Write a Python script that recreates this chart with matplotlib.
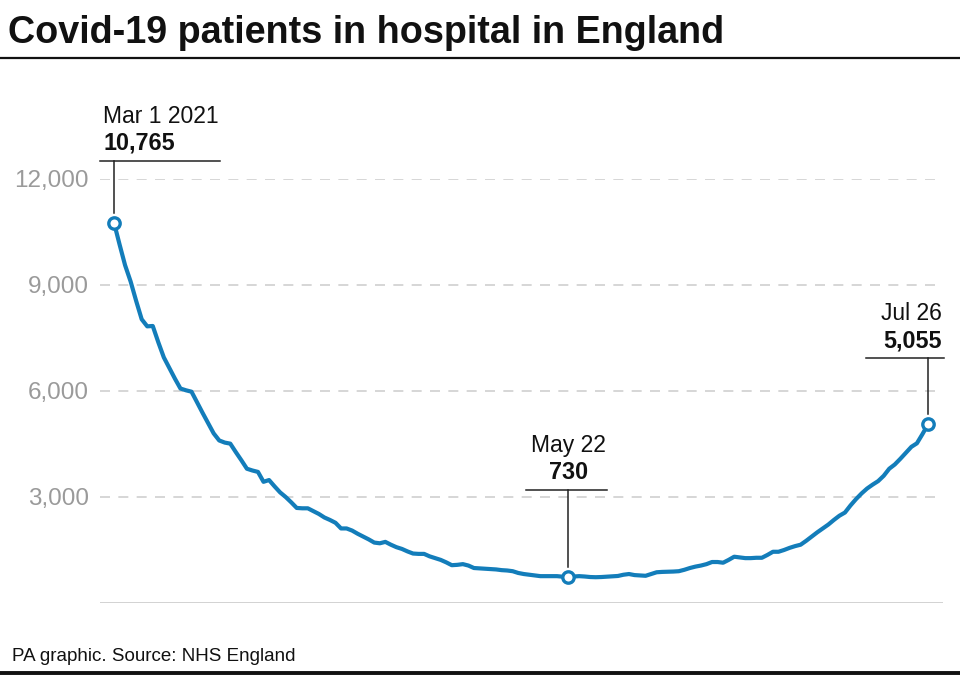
import datetime as dt
import matplotlib
matplotlib.use("Agg")
import matplotlib.pyplot as plt
from matplotlib.lines import Line2D

plt.rcParams["font.family"] = ["Liberation Sans", "DejaVu Sans"]

# daily patients in hospital (Mar 1 - Jul 26 2021)
start_date = dt.date(2021, 3, 1)
patients = [
    10765, 10150, 9560, 9100, 8550, 8030, 7830, 7840, 7380, 6950,
    6650, 6350, 6070, 6020, 5980, 5680, 5380, 5090, 4800, 4600,
    4540, 4510, 4270, 4040, 3800, 3750, 3710, 3430, 3480, 3300,
    3130, 3000, 2850, 2690, 2680, 2680, 2600, 2520, 2420, 2350,
    2270, 2110, 2110, 2050, 1960, 1880, 1800, 1710, 1690, 1730,
    1650, 1580, 1530, 1460, 1400, 1390, 1390, 1320, 1270, 1220,
    1150, 1070, 1080, 1100, 1060, 990, 980, 970, 960, 950,
    930, 920, 900, 850, 820, 800, 780, 760, 760, 760,
    760, 745, 730, 750, 760, 750, 735, 730, 735, 745,
    755, 765, 800, 820, 790, 780, 770, 820, 870, 880,
    885, 890, 900, 940, 990, 1030, 1060, 1100, 1160, 1160,
    1140, 1220, 1310, 1290, 1270, 1270, 1280, 1280, 1360, 1450,
    1450, 1500, 1560, 1610, 1650, 1760, 1880, 2000, 2110, 2220,
    2350, 2470, 2560, 2760, 2940, 3100, 3240, 3350, 3450, 3600,
    3800, 3920, 4080, 4250, 4420, 4520, 4780, 5055,
]
yticks = [3000, 6000, 9000, 12000]
callout_days = [0, 82, 147]
callout_dates = ["Mar 1 2021", "May 22", "Jul 26"]

days = list(range(len(patients)))
dates = [start_date + dt.timedelta(days=d) for d in days]

BLUE = "#137dba"
GRID = "#cfcfcf"
W, H = 960, 679

fig = plt.figure(figsize=(W / 100, H / 100), dpi=100)
ax = fig.add_axes([100 / W, 1 - 603 / H, 843 / W, 424 / H])

ax.plot(days, patients, color=BLUE, lw=3.0, solid_joinstyle="round",
        solid_capstyle="round", zorder=3)
ax.plot([days[i] for i in callout_days], [patients[i] for i in callout_days],
        "o", ms=8.2, mfc="white", mec=BLUE, mew=2.4, zorder=4, clip_on=False)

ax.set_xlim(-14 / 5.537, 147 + 15 / 5.537)
ax.set_ylim(0, 12000)
ax.set_yticks(yticks)
ax.set_yticklabels([f"{v:,}" for v in yticks], color="#9a9a9a", fontsize=17.5)
ax.tick_params(axis="y", length=0, pad=8)
ax.set_xticks([])
for v in yticks:
    ax.axhline(v, color=GRID, lw=1.2, ls=(0, (6, 5)), zorder=1)
ax.axhline(0, color=GRID, lw=1.3, zorder=1)
for s in ax.spines.values():
    s.set_visible(False)


def fig_xy(px, py):
    return px / W, py / H


def callout(i, label, ha, left, right, line_up, text_dx):
    # everything offset in pixels from the marked point
    px, py = ax.transData.transform((days[i], patients[i]))
    hy = py + line_up
    fig.add_artist(Line2D(*zip(fig_xy(px + left, hy), fig_xy(px + right, hy)),
                          transform=fig.transFigure, color="#222222", lw=1.1))
    fig.add_artist(Line2D(*zip(fig_xy(px, hy), fig_xy(px, py + 10)),
                          transform=fig.transFigure, color="#222222", lw=1.1))
    tx, _ = fig_xy(px + text_dx, 0)
    fig.text(tx, (hy + 11) / H, f"{patients[i]:,}", ha=ha, va="baseline",
             fontsize=16.8, fontweight="bold", color="#111111")
    fig.text(tx, (hy + 38) / H, label, ha=ha, va="baseline",
             fontsize=16.5, color="#111111")


callout(callout_days[0], callout_dates[0], "left", -14, 106, 62, -11)
callout(callout_days[1], callout_dates[1], "center", -42, 39, 87, 0)
callout(callout_days[2], callout_dates[2], "right", -62, 16, 66, 14)

fig.text(8 / W, 1 - 43 / H, "Covid-19 patients in hospital in England",
         fontsize=27.2, fontweight="bold", va="baseline", color="#111111")
fig.add_artist(Line2D([0, 1], [1 - 57.5 / H] * 2, transform=fig.transFigure,
                      color="#111111", lw=1.6))
fig.text(12 / W, 1 - 661 / H, "PA graphic. Source: NHS England",
         fontsize=13.5, va="baseline", color="#111111")
fig.add_artist(Line2D([0, 1], [1 - 673 / H] * 2, transform=fig.transFigure,
                      color="#111111", lw=2.8))

fig.savefig("out.png", dpi=100, facecolor="white")
